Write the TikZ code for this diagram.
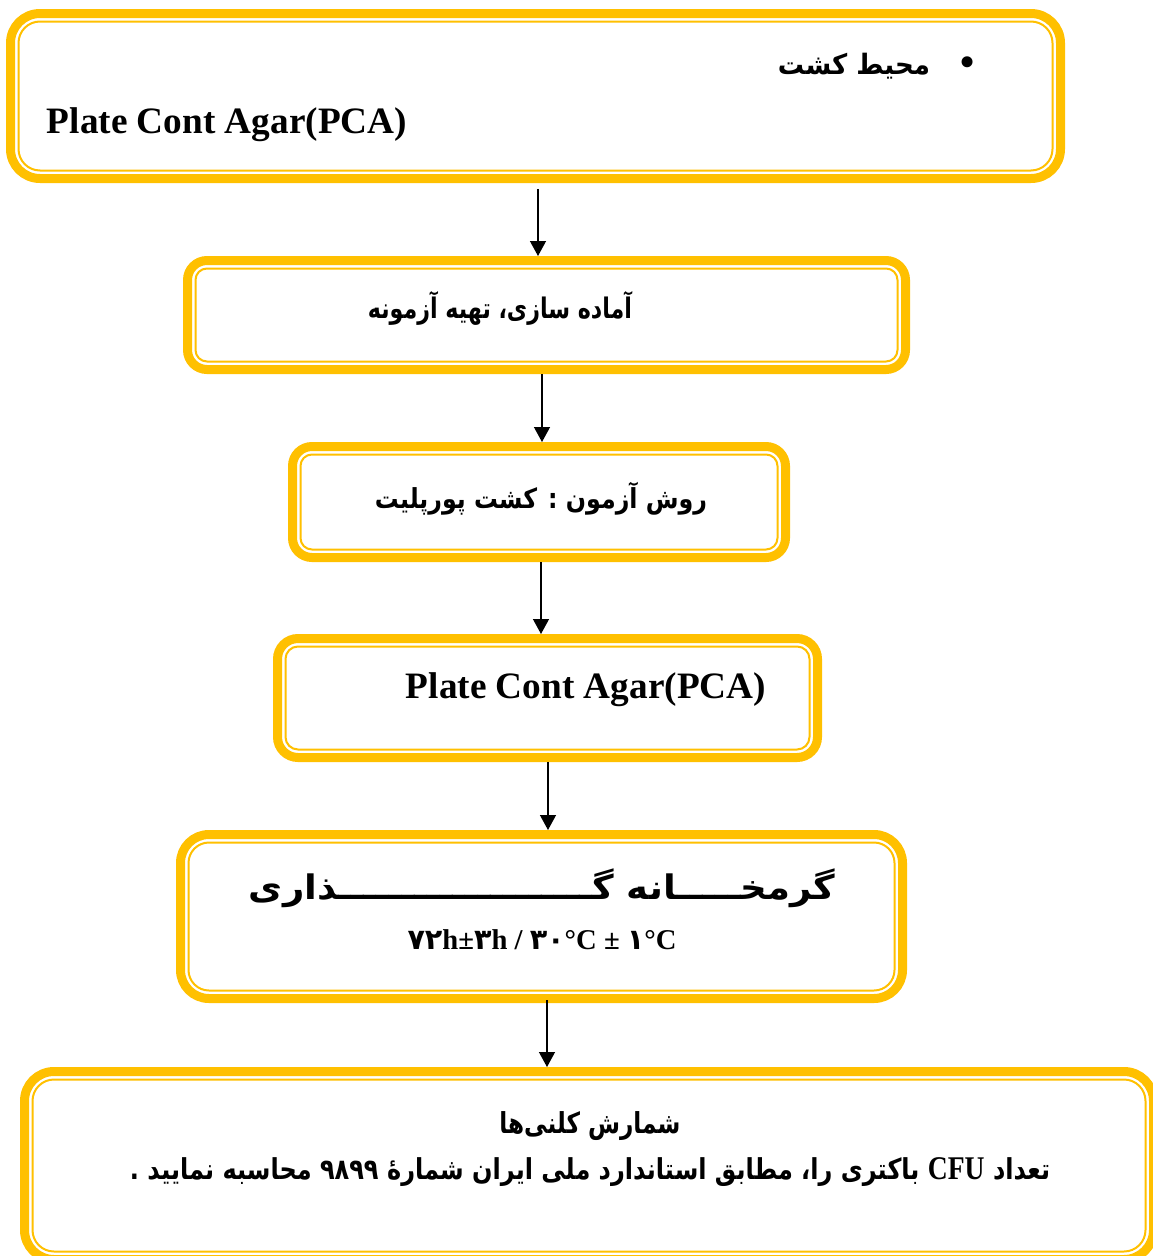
\documentclass[tikz,border=0pt]{standalone}
\usepackage{fontspec}
\usepackage{graphicx}
\setmainfont{Liberation Serif}
\newfontfamily\fa[Script=Arabic]{DejaVu Sans}
\TeXXeTstate=1
\usetikzlibrary{arrows.meta}
\definecolor{gold}{HTML}{FFC000}
\tikzset{
  boxouter/.style={draw=gold, line width=9pt, rectangle, inner sep=0pt, outer sep=4.5pt},
  boxinner/.style={draw=gold, line width=2pt},
  arr/.style={-{Triangle[length=15pt,width=16pt]}, line width=1.3pt},
  txt/.style={inner sep=0pt, anchor=center}
}
\newcommand\goldbox[6]{%
  \pgfmathsetmacro\gbw{#4-#2-9}%
  \pgfmathsetmacro\gbh{#5-#3-9}%
  \pgfmathsetmacro\gbx{(#2+#4)/2}%
  \pgfmathsetmacro\gby{(#3+#5)/2}%
  \pgfmathsetmacro\gbro{#6-4.5}%
  \pgfmathsetmacro\gbri{#6-12.5}%
  \node[boxouter, minimum width=\gbw pt, minimum height=\gbh pt, rounded corners=\gbro pt] (#1) at (\gbx,\gby) {};
  \draw[boxinner, rounded corners=\gbri pt] ([shift={(12.5pt,-12.5pt)}]#1.north west) rectangle ([shift={(-12.5pt,12.5pt)}]#1.south east);
}
\begin{document}
\begin{tikzpicture}[x=1pt,y=-1pt]
\useasboundingbox[fill=white] (0,0) rectangle (1152,1256);
\goldbox{b1}{6}{9}{1065}{183}{34}
\goldbox{b2}{183}{256}{910}{374}{24}
\goldbox{b3}{288}{442}{790}{562}{24}
\goldbox{b4}{273}{634}{822}{762}{25}
\goldbox{b5}{176}{830}{907}{1003}{33}
\goldbox{b6}{20}{1067}{1158}{1264}{34}

% texts
\node[txt] (t1b) at (968,67) {\fontsize{46}{46}\selectfont •};
\node[txt] (t1a) at (854,66.5) {\resizebox*{152pt}{26pt}{\fa\bfseries\beginR محیط کشت\endR}};
\node[txt] (t1c) at (227,125) {\resizebox{360pt}{!}{\bfseries Plate Cont Agar(PCA)}};
\node[txt] (t2) at (500,308.5) {\resizebox*{264pt}{34pt}{\fa\bfseries\beginR آماده سازی، تهیه آزمونه\endR}};
\node[txt] (t3) at (541,499) {\resizebox*{332pt}{33pt}{\fa\bfseries\beginR روش آزمون : کشت پورپلیت\endR}};
\node[txt] (t4) at (586,690) {\resizebox{360pt}{!}{\bfseries Plate Cont Agar(PCA)}};
\node[txt] (t5a) at (542,888) {\resizebox*{586pt}{39pt}{\fa\bfseries\beginR گرمخـــــانه گــــــــــــــــــــذاری\endR}};
\node[txt] (t5b) at (542,940) {\resizebox{269pt}{!}{\bfseries{\fa ۷۲}h±{\fa ۳}h / {\fa ۳۰}°C ± {\fa ۱}°C}};
\node[txt] (t6a) at (590,1126) {\resizebox*{181pt}{29pt}{\fa\bfseries\beginR شمارش کلنی‌ها\endR}};
\node[txt] (t6b) at (590,1172) {\resizebox*{920pt}{29pt}{\fa\bfseries\beginR تعداد \beginL{\rmfamily\bfseries\fontsize{11.5}{11.5}\selectfont CFU}\endL{} باکتری را، مطابق استاندارد ملی ایران شمارهٔ \beginL۹۸۹۹\endL{} محاسبه نمایید .\endR}};

% arrows
\coordinate (c1) at (538,0);
\coordinate (c2) at (542,0);
\coordinate (c3) at (541,0);
\coordinate (c4) at (548,0);
\coordinate (c5) at (547,0);
\draw[arr, shorten <=6pt] (b1.south -| c1) -- (b2.north -| c1);
\draw[arr] (b2.south -| c2) -- (b3.north -| c2);
\draw[arr] (b3.south -| c3) -- (b4.north -| c3);
\draw[arr] (b4.south -| c4) -- (b5.north -| c4);
\draw[arr, shorten <=-3pt] (b5.south -| c5) -- (b6.north -| c5);
\end{tikzpicture}
\end{document}
